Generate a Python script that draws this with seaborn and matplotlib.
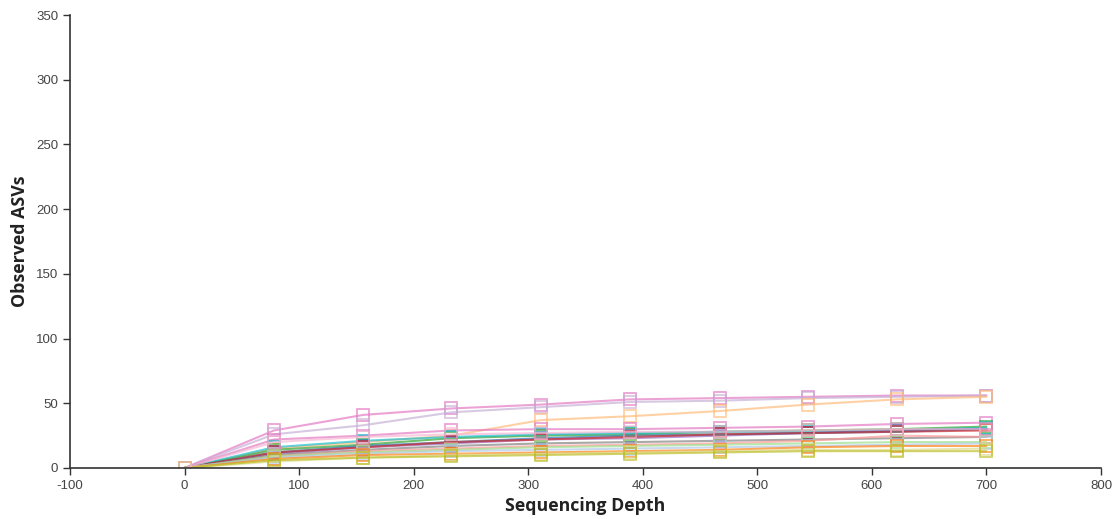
import matplotlib
matplotlib.use("Agg")
import matplotlib.pyplot as plt
import seaborn as sns
import pandas as pd

depths = [0, 78, 156, 233, 311, 389, 467, 544, 622, 700]

samples = ["S01", "S02", "S03", "S04", "S05", "S06", "S07", "S08", "S09",
           "S10", "S11", "S12", "S13", "S14", "S15", "S16", "S17"]

s01 = [0, 29, 41, 46, 49, 53, 54, 55, 56, 56]
s02 = [0, 26, 33, 43, 47, 51, 52, 54, 55, 56]
s03 = [0, 15, 20, 25, 37, 40, 44, 49, 53, 55]
s04 = [0, 22, 25, 29, 30, 30, 31, 32, 34, 35]
s05 = [0, 14, 18, 23, 25, 26, 28, 29, 30, 32]
s06 = [0, 16, 21, 24, 26, 27, 28, 28, 29, 31]
s07 = [0, 11, 16, 19, 22, 23, 25, 27, 29, 30]
s08 = [0, 12, 17, 20, 23, 25, 26, 27, 28, 30]
s09 = [0, 12, 16, 20, 22, 24, 26, 27, 28, 29]
s10 = [0, 10, 14, 17, 19, 20, 21, 22, 23, 24]
s11 = [0, 9, 13, 15, 17, 18, 19, 21, 25, 24]
s12 = [0, 9, 12, 14, 16, 17, 18, 19, 20, 20]
s13 = [0, 8, 11, 13, 14, 15, 16, 17, 18, 19]
s14 = [0, 7, 10, 11, 12, 13, 14, 16, 17, 17]
s15 = [0, 5, 8, 10, 11, 12, 13, 14, 14, 15]
s16 = [0, 6, 8, 9, 10, 11, 12, 13, 13, 13]
s17 = [0, 20, 24, 26, 27, 28, 28, 29, 30, 30]

series = [s01, s02, s03, s04, s05, s06, s07, s08, s09, s10, s11, s12,
          s13, s14, s15, s16, s17]

colors = ["#e377c2", "#c5b0d5", "#ffbb78", "#e377c2", "#2ca02c", "#17becf",
          "#9467bd", "#1f77b4", "#d62728", "#7f7f7f", "#ff9896", "#98df8a",
          "#aec7e8", "#ff7f0e", "#dbdb8d", "#bcbd22", "#f7b6d2"]

rows = []
for name, vals in zip(samples, series):
    for d, v in zip(depths, vals):
        rows.append({"sample": name, "depth": d, "asv": v})
df = pd.DataFrame(rows)

sns.set_style("white")
plt.rcParams["font.family"] = ["Liberation Sans Narrow", "Liberation Sans", "DejaVu Sans"]
plt.rcParams["axes.unicode_minus"] = False
fig = plt.figure(figsize=(11.2, 5.19), dpi=100)
ax = fig.add_axes([0.0625, 0.0983, 0.9205, 0.8727])

sns.lineplot(data=df, x="depth", y="asv", hue="sample", palette=colors,
             marker="s", markersize=8, markerfacecolor="none",
             markeredgewidth=1.3, linewidth=1.5, alpha=0.68,
             legend=False, ax=ax)
for line, c in zip(ax.lines, colors):
    line.set_markeredgecolor(c)
    line.set_markerfacecolor("none")

ax.set_xlim(-100, 800)
ax.set_ylim(0, 350)
ax.set_xticks(range(-100, 801, 100))
ax.set_yticks(range(0, 351, 50))
for sp in ["top", "right"]:
    ax.spines[sp].set_visible(False)
for sp in ["left", "bottom"]:
    ax.spines[sp].set_color("#333333")
    ax.spines[sp].set_linewidth(1.2)
ax.tick_params(axis="both", direction="out", length=5, width=1, color="#333333",
               labelsize=9.5, labelcolor="#444444", left=True, bottom=True)
ax.set_xlabel("Sequencing Depth", fontsize=12.8, fontweight="bold", labelpad=4,
              family=["Open Sans", "DejaVu Sans"], color="#222222")
ax.set_ylabel("Observed ASVs", fontsize=12.8, fontweight="bold", labelpad=5,
              family=["Open Sans", "DejaVu Sans"], color="#222222")

fig.savefig("out.png", dpi=100)
